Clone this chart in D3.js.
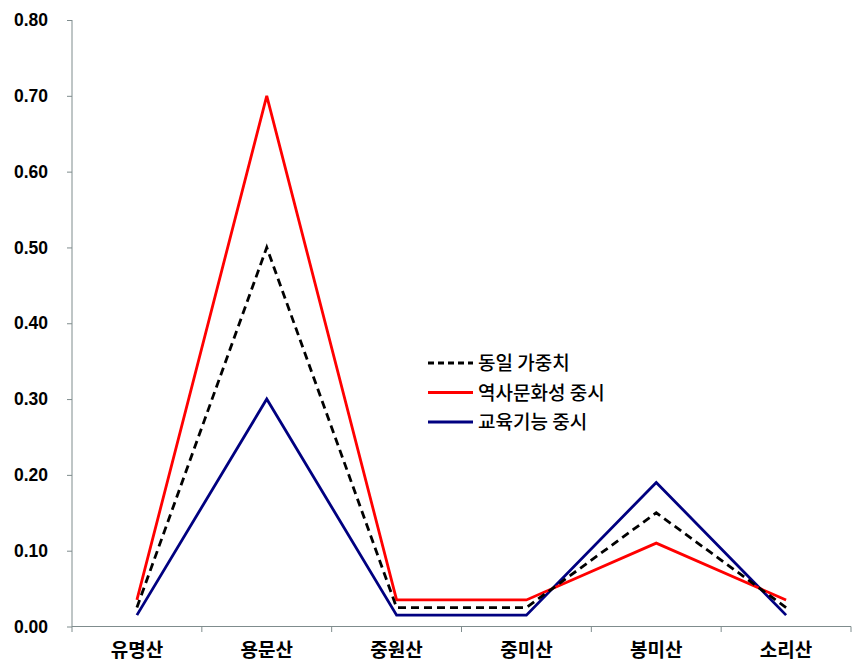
<!DOCTYPE html>
<html><head><meta charset="utf-8">
<script src="https://cdn.jsdelivr.net/npm/d3@7"></script>
<style>body{margin:0;background:#fff}</style>
</head><body><svg id="c" width="864" height="668"></svg>
<script>
const categories = ["유명산","용문산","중원산","중미산","봉미산","소리산"];
const seriesNames = ["동일 가중치","역사문화성 중시","교육기능 중시"];
const equalWeight = [0.025,0.50,0.025,0.025,0.15,0.025];
const historyCulture = [0.035,0.70,0.035,0.035,0.11,0.035];
const education = [0.015,0.30,0.015,0.015,0.19,0.015];
const yTicks = [0,0.1,0.2,0.3,0.4,0.5,0.6,0.7,0.8];

const svg = d3.select("#c");
const x = d3.scaleBand().domain(categories).range([72,851]);
const y = d3.scaleLinear().domain([0,0.8]).range([626.5,20]);
const axisColor = "#7f8c8d";

const yAxis = svg.append("g").attr("transform","translate(72,0)")
  .call(d3.axisLeft(y).tickValues(yTicks).tickFormat(d3.format(".2f")).tickSize(5).tickPadding(19));
yAxis.select(".domain").attr("stroke",axisColor).attr("d","M0,20V632");
yAxis.selectAll(".tick line").attr("stroke",axisColor);
yAxis.selectAll("text").attr("font-family","'Liberation Sans',Arial,sans-serif").attr("font-weight","bold").attr("font-size",17.5).attr("fill","#000");

const xAxis = svg.append("g").attr("transform","translate(0,626.5)")
  .call(d3.axisBottom(x).tickSize(0).tickPadding(0));
xAxis.select(".domain").attr("stroke",axisColor).attr("d","M72,0H851");
xAxis.selectAll("text").attr("dy",null).attr("y",30).attr("font-family","'Noto Sans CJK KR',sans-serif").attr("font-weight","bold").attr("font-size",19).attr("fill","#000");
const bounds = categories.map(c=>x(c)+x.bandwidth());
svg.append("g").selectAll("line").data(bounds).join("line")
  .attr("x1",d=>d).attr("x2",d=>d).attr("y1",626.5).attr("y2",632).attr("stroke",axisColor);

const series = [
  {name:seriesNames[0], values:equalWeight, color:"#000000", dash:"8,5"},
  {name:seriesNames[1], values:historyCulture, color:"#ff0000", dash:null},
  {name:seriesNames[2], values:education, color:"#000080", dash:null}
];
const line = d3.line().x((d,i)=>x(categories[i])+x.bandwidth()/2).y(d=>y(d));
[series[2],series[1],series[0]].forEach(s=>{
  svg.append("path").datum(s.values).attr("d",line).attr("fill","none")
    .attr("stroke",s.color).attr("stroke-width",2.8).attr("stroke-dasharray",s.dash);
});

const lg = svg.append("g");
series.forEach((s,i)=>{
  const yy = 363 + i*29.5;
  lg.append("line").attr("x1",428).attr("x2",473).attr("y1",yy).attr("y2",yy)
    .attr("stroke",s.color).attr("stroke-width",2.8).attr("stroke-dasharray",s.dash?"6,4":null);
  lg.append("text").attr("x",478).attr("y",yy+7).text(s.name)
    .attr("font-family","'Noto Sans CJK KR',sans-serif").attr("font-weight",500).attr("font-size",19).attr("fill","#000");
});
</script></body></html>
